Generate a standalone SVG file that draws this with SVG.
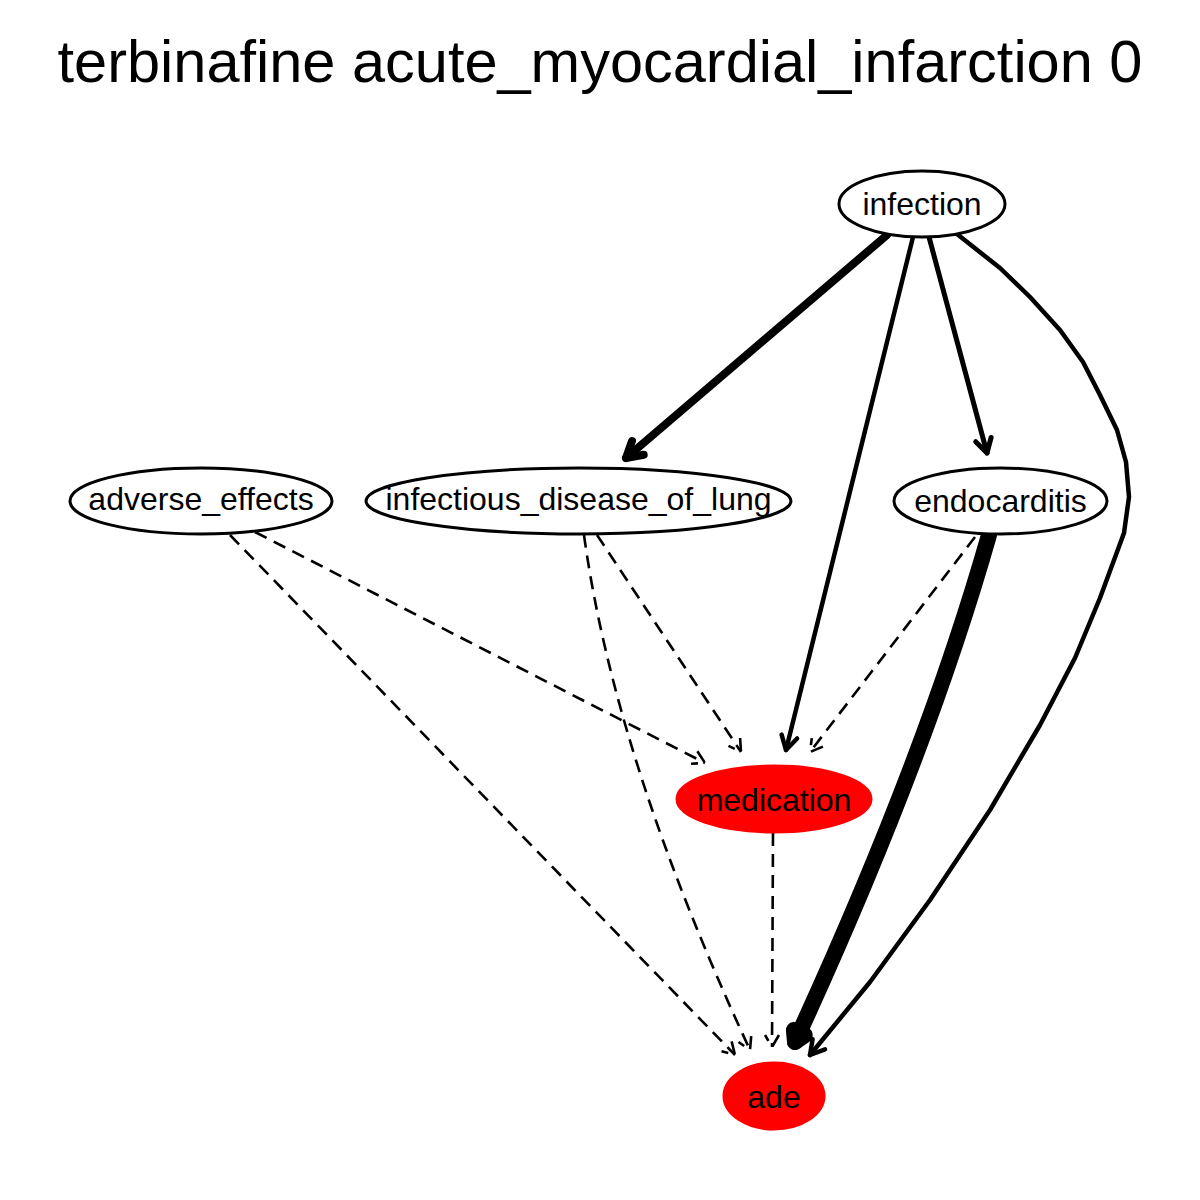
<svg xmlns="http://www.w3.org/2000/svg" width="1200" height="1200" viewBox="0 0 1200 1200">
<style>
.node ellipse{fill:#fff;stroke:#000;stroke-width:3}
.node.red ellipse{fill:#ff0000;stroke:#ff0000}
.node text{font-family:"Liberation Sans",Arial,sans-serif;font-size:32px;text-anchor:middle;fill:#000}
.title{font-family:"Liberation Sans",Arial,sans-serif;font-size:59.5px;text-anchor:middle;fill:#000}
.e{fill:none;stroke:#000;stroke-linecap:round;stroke-linejoin:round}
.d{stroke-width:2.6;stroke-dasharray:13 8;stroke-linecap:butt}
</style>
<rect width="1200" height="1200" fill="#fff"/>
<text class="title" x="600" y="82">terbinafine acute_myocardial_infarction 0</text>
<g id="edges">
<!-- infection -> infectious_disease_of_lung -->
<path class="e" stroke-width="8" d="M887,235 L626,458"/>
<polyline class="e" stroke-width="8" points="643.7,454.7 626,458 632,441"/>
<!-- infection -> medication -->
<path class="e" stroke-width="4.5" d="M913,237 L786,750"/>
<polyline class="e" stroke-width="4.5" points="797.1,738.5 786,750 781.6,734.6"/>
<!-- infection -> endocarditis -->
<path class="e" stroke-width="5" d="M929,237 L987,453"/>
<polyline class="e" stroke-width="5" points="991.1,437.5 987,453 975.7,441.7"/>
<!-- infection -> ade -->
<path class="e" stroke-width="4.5" d="M957,234 L1000,268 L1030,297 L1060,330 L1083,362 L1100,395 L1117,430 L1126,462 L1129,497 L1124,533 L1100,598 L1075,658 L1040,725 L990,810 L930,900 L870,982 L810,1055"/>
<polyline class="e" stroke-width="4.5" points="825,1049.4 810,1055 812.6,1039.2"/>
<!-- endocarditis -> ade -->
<path class="e" stroke-width="16" d="M989,535 Q925,760 795,1042"/>
<polyline class="e" stroke-width="16" points="804.8,1035.1 795,1042 793.9,1030"/>
<!-- endocarditis -> medication -->
<path class="e d" d="M975,537 L810,752"/>
<polyline class="e d" points="822.9,746.6 810,752 811.8,738.1"/>
<!-- adverse_effects -> medication -->
<path class="e d" d="M255,532 L705,763"/>
<polyline class="e d" points="697.4,751.2 705,763 691,763.7"/>
<!-- adverse_effects -> ade -->
<path class="e d" d="M230,535 L735,1055"/>
<polyline class="e d" points="731.6,1041.4 735,1055 721.5,1051.2"/>
<!-- infectious_disease_of_lung -> medication -->
<path class="e d" d="M597,535 L741,752"/>
<polyline class="e d" points="740.1,738 741,752 728.5,745.8"/>
<!-- infectious_disease_of_lung -> ade -->
<path class="e d" d="M584,535 Q615,760 750,1050"/>
<polyline class="e d" points="751.2,1036.1 750,1050 738.5,1042"/>
<!-- medication -> ade -->
<path class="e d" d="M773,833 L772,1047"/>
<polyline class="e d" points="779,1035 772,1047 765,1035"/>
</g>
<g id="node-infection" class="node"><ellipse cx="922" cy="204" rx="83" ry="33"/><text x="922" y="215">infection</text></g>
<g id="node-adverse_effects" class="node"><ellipse cx="201" cy="501" rx="131" ry="33"/><text x="201" y="510">adverse_effects</text></g>
<g id="node-infectious_disease_of_lung" class="node"><ellipse cx="578.5" cy="501" rx="212.5" ry="33"/><text x="578.5" y="510">infectious_disease_of_lung</text></g>
<g id="node-endocarditis" class="node"><ellipse cx="1000.5" cy="501" rx="106.5" ry="33"/><text x="1000.5" y="512">endocarditis</text></g>
<g id="node-medication" class="node red"><ellipse cx="774" cy="799" rx="97" ry="33"/><text x="774" y="811">medication</text></g>
<g id="node-ade" class="node red"><ellipse cx="774" cy="1096" rx="50" ry="33"/><text x="774" y="1108">ade</text></g>
</svg>
